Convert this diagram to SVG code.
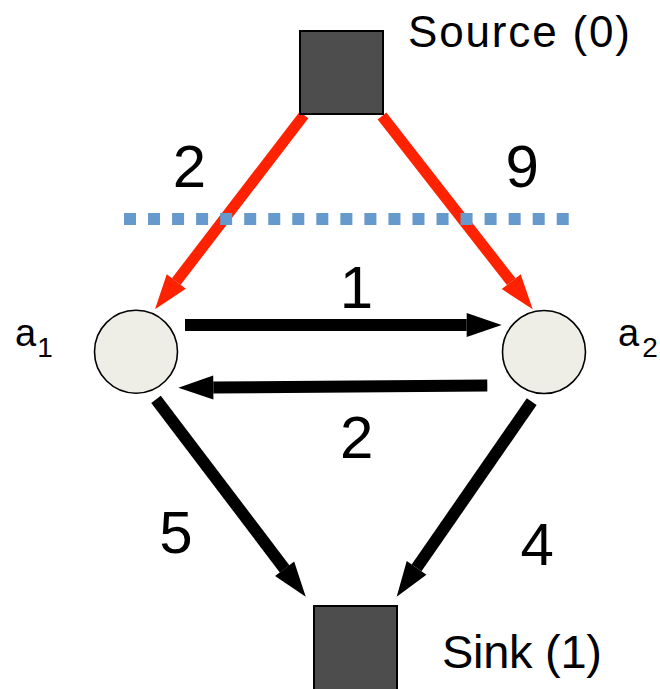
<svg xmlns="http://www.w3.org/2000/svg" width="660" height="689" viewBox="0 0 660 689">
  <style>
    .box { fill: #4d4d4d; stroke: #000; stroke-width: 2; }
    .circ { fill: #eeeee7; stroke: #000; stroke-width: 1.6; }
    .lbl { font-family: "Liberation Sans", Arial, sans-serif; fill: #000; }
    .num { font-family: "Liberation Sans", Arial, sans-serif; font-size: 60px; text-anchor: middle; fill: #000; }
    .blk { stroke: #000; stroke-width: 12; fill: none; }
    .red { stroke: #ff2200; stroke-width: 11; fill: none; }
    .cut { stroke: #6699cc; stroke-width: 12; stroke-dasharray: 12 12.04; fill: none; }
  </style>
  <defs>
    <marker id="hb" markerUnits="userSpaceOnUse" markerWidth="36" markerHeight="26" refX="0" refY="0" orient="auto" overflow="visible">
      <path d="M0,-12 L35,0 L0,12 Z" fill="#000"/>
    </marker>
    <marker id="hr" markerUnits="userSpaceOnUse" markerWidth="36" markerHeight="26" refX="0" refY="0" orient="auto" overflow="visible">
      <path d="M0,-12 L35,0 L0,12 Z" fill="#ff2200"/>
    </marker>
  </defs>

  <g id="connectors">
    <line class="red" x1="304" y1="115" x2="176.3" y2="281.5" marker-end="url(#hr)"/>
    <line class="red" x1="382" y1="116" x2="511.2" y2="281.7" marker-end="url(#hr)"/>
    <line class="blk" x1="185" y1="325" x2="466.7" y2="325" marker-end="url(#hb)"/>
    <line class="blk" x1="487.3" y1="385.5" x2="213.3" y2="387.45" marker-end="url(#hb)"/>
    <line class="blk" x1="156" y1="399.3" x2="284.6" y2="568.8" marker-end="url(#hb)"/>
    <line class="blk" x1="531.7" y1="401.7" x2="416.6" y2="567.9" marker-end="url(#hb)"/>
  </g>

  <g id="edge-labels">
    <text class="num" x="189.5" y="187.3">2</text>
    <text class="num" x="522.3" y="186.7">9</text>
    <text class="num" x="356.5" y="307.7">1</text>
    <text class="num" x="356.7" y="458.3">2</text>
    <text class="num" x="176" y="553">5</text>
    <text class="num" x="537.2" y="565">4</text>
  </g>

  <g id="cut-line">
    <line class="cut" x1="124" y1="219" x2="569" y2="219"/>
  </g>

  <g id="source">
    <rect class="box" x="300" y="31" width="83" height="83"/>
    <text class="lbl" x="408" y="47" font-size="44" textLength="222">Source (0)</text>
  </g>

  <g id="a1">
    <circle class="circ" cx="136" cy="351.7" r="41.5"/>
    <text class="lbl" x="15" y="346" font-size="38">a</text>
    <text class="lbl" x="45" y="357.3" font-size="28" text-anchor="middle">1</text>
  </g>

  <g id="a2">
    <circle class="circ" cx="544" cy="352" r="41.5"/>
    <text class="lbl" x="618" y="346" font-size="38">a</text>
    <text class="lbl" x="650" y="357.3" font-size="28" text-anchor="middle">2</text>
  </g>

  <g id="sink">
    <rect class="box" x="314" y="606" width="83" height="84"/>
    <text class="lbl" x="442" y="668" font-size="47" textLength="160">Sink (1)</text>
  </g>
</svg>
